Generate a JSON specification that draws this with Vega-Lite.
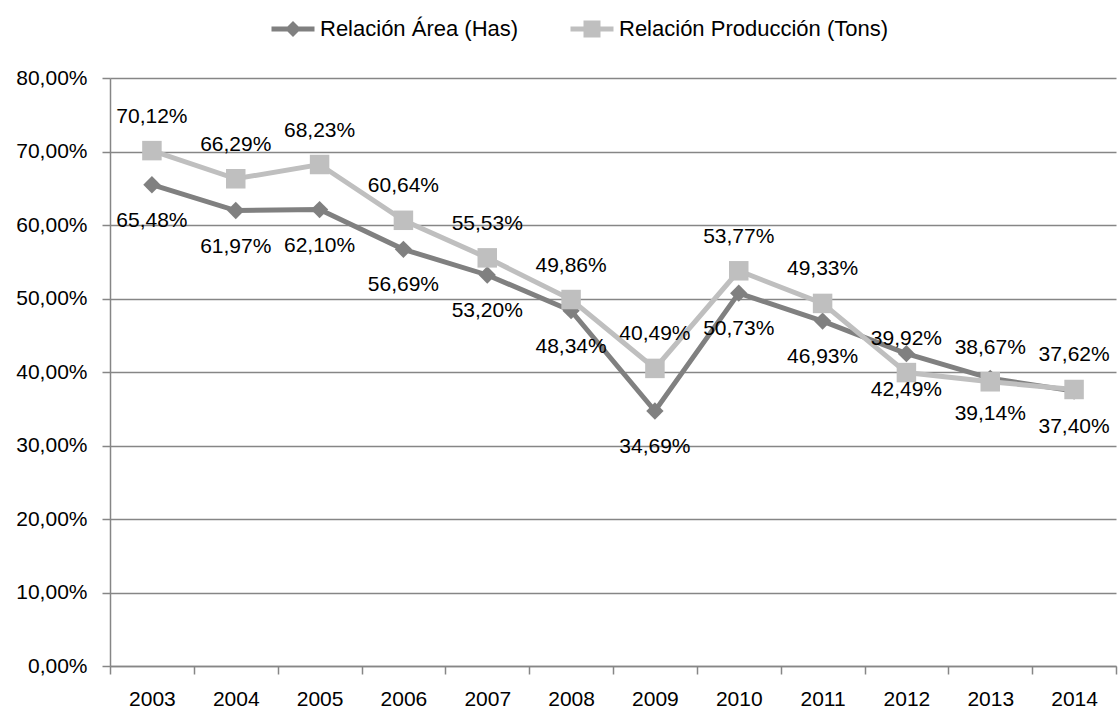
{
  "$schema": "https://vega.github.io/schema/vega-lite/v6.json",
  "width": 1006,
  "height": 588,
  "autosize": {"type": "none"},
  "padding": {"left": 110, "top": 78, "right": 2, "bottom": 44},
  "background": "white",
  "config": {
    "locale": {"number": {"decimal": ",", "thousands": ".", "grouping": [3], "currency": ["", " €"]}},
    "font": "Liberation Sans",
    "view": {"stroke": null}
  },
  "data": {
    "values": [
      {"anio": "2003", "serie": "Relación Área (Has)", "valor": 0.6548},
      {"anio": "2004", "serie": "Relación Área (Has)", "valor": 0.6197},
      {"anio": "2005", "serie": "Relación Área (Has)", "valor": 0.6210},
      {"anio": "2006", "serie": "Relación Área (Has)", "valor": 0.5669},
      {"anio": "2007", "serie": "Relación Área (Has)", "valor": 0.5320},
      {"anio": "2008", "serie": "Relación Área (Has)", "valor": 0.4834},
      {"anio": "2009", "serie": "Relación Área (Has)", "valor": 0.3469},
      {"anio": "2010", "serie": "Relación Área (Has)", "valor": 0.5073},
      {"anio": "2011", "serie": "Relación Área (Has)", "valor": 0.4693},
      {"anio": "2012", "serie": "Relación Área (Has)", "valor": 0.4249},
      {"anio": "2013", "serie": "Relación Área (Has)", "valor": 0.3914},
      {"anio": "2014", "serie": "Relación Área (Has)", "valor": 0.3740},
      {"anio": "2003", "serie": "Relación Producción (Tons)", "valor": 0.7012},
      {"anio": "2004", "serie": "Relación Producción (Tons)", "valor": 0.6629},
      {"anio": "2005", "serie": "Relación Producción (Tons)", "valor": 0.6823},
      {"anio": "2006", "serie": "Relación Producción (Tons)", "valor": 0.6064},
      {"anio": "2007", "serie": "Relación Producción (Tons)", "valor": 0.5553},
      {"anio": "2008", "serie": "Relación Producción (Tons)", "valor": 0.4986},
      {"anio": "2009", "serie": "Relación Producción (Tons)", "valor": 0.4049},
      {"anio": "2010", "serie": "Relación Producción (Tons)", "valor": 0.5377},
      {"anio": "2011", "serie": "Relación Producción (Tons)", "valor": 0.4933},
      {"anio": "2012", "serie": "Relación Producción (Tons)", "valor": 0.3992},
      {"anio": "2013", "serie": "Relación Producción (Tons)", "valor": 0.3867},
      {"anio": "2014", "serie": "Relación Producción (Tons)", "valor": 0.3762}
    ]
  },
  "encoding": {
    "x": {
      "field": "anio", "type": "ordinal",
      "scale": {"type": "band", "paddingInner": 0, "paddingOuter": 0},
      "axis": {
        "title": null, "labelAngle": 0, "labelFont": "Liberation Sans", "labelFontSize": 21,
        "labelColor": "#000000", "labelPadding": 14, "tickBand": "extent", "tickSize": 8,
        "tickColor": "#868686", "domainColor": "#868686", "domainWidth": 1.5, "tickWidth": 1.5, "grid": false
      }
    },
    "y": {
      "field": "valor", "type": "quantitative",
      "scale": {"domain": [0, 0.8], "nice": false},
      "axis": {
        "title": null, "format": ".2%", "values": [0, 0.1, 0.2, 0.3, 0.4, 0.5, 0.6, 0.7, 0.8],
        "labelFont": "Liberation Sans", "labelFontSize": 21, "labelColor": "#000000", "labelPadding": 15,
        "tickSize": 8, "tickColor": "#868686", "tickWidth": 1.5, "domainColor": "#868686", "domainWidth": 1.5,
        "grid": true, "gridColor": "#868686", "gridWidth": 1.5
      }
    }
  },
  "layer": [
    {
      "transform": [{"filter": "datum.serie === 'Relación Área (Has)'"}],
      "mark": {"type": "line", "strokeWidth": 5, "color": "#808080"},
      "encoding": {}
    },
    {
      "transform": [{"filter": "datum.serie === 'Relación Área (Has)'"}],
      "mark": {"type": "point", "filled": true, "opacity": 1, "shape": "diamond", "size": 300, "color": "#808080"},
      "encoding": {}
    },
    {
      "transform": [{"filter": "datum.serie === 'Relación Producción (Tons)'"}],
      "mark": {"type": "line", "strokeWidth": 5, "color": "#BFBFBF"},
      "encoding": {}
    },
    {
      "transform": [{"filter": "datum.serie === 'Relación Producción (Tons)'"}],
      "mark": {"type": "point", "filled": true, "opacity": 1, "shape": "square", "size": 380, "color": "#BFBFBF"},
      "encoding": {}
    },
    {
      "transform": [{"filter": "false"}],
      "mark": {"type": "point", "filled": true, "opacity": 1},
      "encoding": {
        "color": {
          "field": "serie", "type": "nominal",
          "scale": {"domain": ["Relación Área (Has)", "Relación Producción (Tons)"], "range": ["#808080", "#BFBFBF"]},
          "legend": {
            "title": null, "orient": "none", "direction": "horizontal", "legendX": 172, "legendY": -60,
            "labelFont": "Liberation Sans", "labelFontSize": 22, "labelColor": "#000000", "labelLimit": 500,
            "symbolSize": 400, "labelOffset": 16, "columnPadding": 51
          }
        },
        "shape": {
          "field": "serie", "type": "nominal",
          "scale": {
            "domain": ["Relación Área (Has)", "Relación Producción (Tons)"],
            "range": [
              "M-2.15,-0.25L2.15,-0.25L2.15,0.25L-2.15,0.25Z M0,-0.8L0.8,0L0,0.8L-0.8,0Z",
              "M-2.15,-0.25L2.15,-0.25L2.15,0.25L-2.15,0.25Z M-0.85,-0.85L0.85,-0.85L0.85,0.85L-0.85,0.85Z"
            ]
          },
          "legend": {
            "title": null, "orient": "none", "direction": "horizontal", "legendX": 172, "legendY": -60,
            "labelFont": "Liberation Sans", "labelFontSize": 22, "labelColor": "#000000", "labelLimit": 500,
            "symbolSize": 400, "labelOffset": 16, "columnPadding": 51
          }
        }
      }
    },
    {
      "transform": [{"filter": "datum.serie === 'Relación Producción (Tons)'"}],
      "mark": {"type": "text", "dy": -34, "fontSize": 21, "font": "Liberation Sans", "color": "#000000", "baseline": "middle"},
      "encoding": {"text": {"field": "valor", "type": "quantitative", "format": ".2%"}}
    },
    {
      "transform": [{"filter": "datum.serie === 'Relación Área (Has)'"}],
      "mark": {"type": "text", "dy": 36, "fontSize": 21, "font": "Liberation Sans", "color": "#000000", "baseline": "middle"},
      "encoding": {"text": {"field": "valor", "type": "quantitative", "format": ".2%"}}
    }
  ]
}
